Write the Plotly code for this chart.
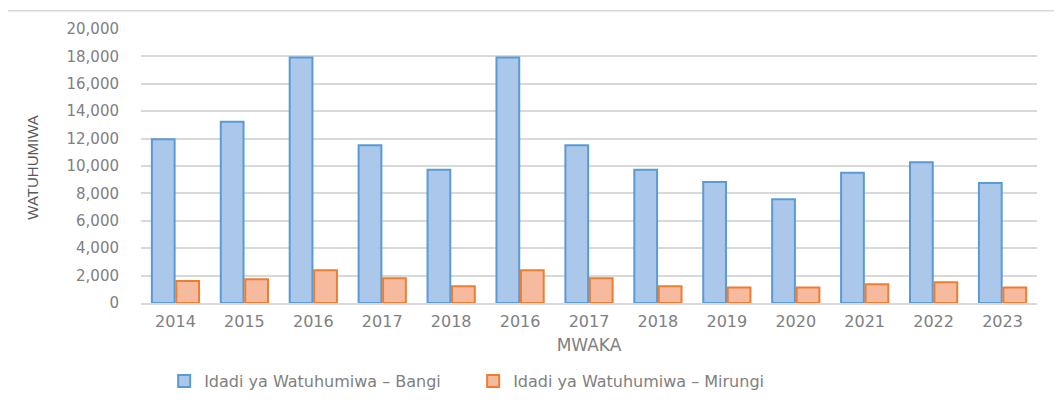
import plotly.graph_objects as go

years = ["2014", "2015", "2016", "2017", "2018", "2016", "2017", "2018",
         "2019", "2020", "2021", "2022", "2023"]
bangi = [11950, 13230, 17920, 11520, 9720, 17920, 11520, 9720,
         8840, 7570, 9500, 10280, 8760]
mirungi = [1600, 1730, 2390, 1800, 1220, 2390, 1800, 1220,
           1140, 1140, 1360, 1510, 1140]

pos = list(range(len(years)))

fig = go.Figure()
fig.add_trace(go.Bar(
    x=pos, y=bangi, name="Idadi ya Watuhumiwa – Bangi",
    marker=dict(color="#abc7e9", line=dict(color="#5b9bd5", width=2)),
))
fig.add_trace(go.Bar(
    x=pos, y=mirungi, name="Idadi ya Watuhumiwa – Mirungi",
    marker=dict(color="#f6bb9f", line=dict(color="#ed7d31", width=2)),
))

grey = "#808080"
fig.update_layout(
    width=1062, height=409,
    margin=dict(l=133, r=33, t=21, b=114),
    paper_bgcolor="white", plot_bgcolor="white",
    barmode="group", bargap=0.29, bargroupgap=0.07,
    font=dict(family="DejaVu Sans", color=grey),
    showlegend=True,
    legend=dict(orientation="h", xref="container", yref="container",
                x=0.438, xanchor="center", y=0.088, yanchor="middle",
                font=dict(size=16, color=grey), itemwidth=30,
                entrywidth=264, entrywidthmode="pixels",
                traceorder="normal"),
    xaxis=dict(
        tickmode="array", tickvals=pos, ticktext=years,
        range=[-0.5, len(years) - 0.5], automargin=False,
        tickfont=dict(size=16, color=grey), showgrid=False,
        showline=True, linecolor="#d9d9d9", linewidth=1.5,
        ticks="", ticklabelstandoff=3,
        title=dict(text="MWAKA", font=dict(size=17, color=grey), standoff=9),
    ),
    yaxis=dict(
        range=[0, 20000], dtick=2000, tickformat=",d", automargin=False,
        tickfont=dict(size=15, color=grey),
        showgrid=True, gridcolor="#d9d9d9", gridwidth=1.5,
        zeroline=False, showline=False, ticks="", ticklabelstandoff=21,
    ),
    annotations=[dict(text="WATUHUMIWA", textangle=-90, xref="paper", yref="paper",
                      x=-0.1205, y=0.494, xanchor="center", yanchor="middle",
                      showarrow=False,
                      font=dict(family="Liberation Sans", size=15, color="#595959"))],
    shapes=[dict(type="line", xref="paper", yref="paper",
                 x0=-0.15, x1=1.04, y0=1.067, y1=1.067,
                 line=dict(color="#d9d9d9", width=1.5))],
)

fig.write_html("out.html")
